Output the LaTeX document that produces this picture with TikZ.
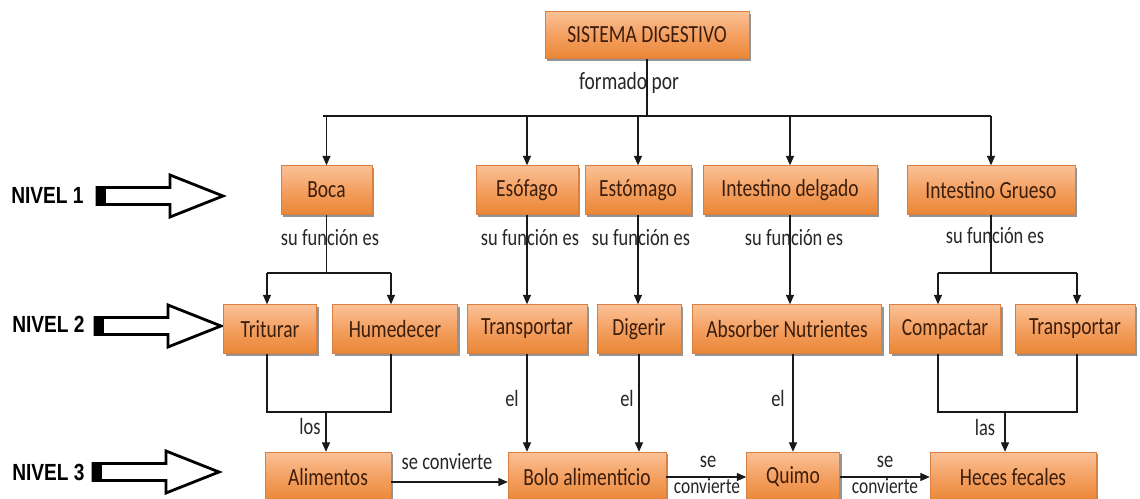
\documentclass[tikz,border=0pt]{standalone}
\usepackage{fontspec}
\newfontfamily\cfont{Carlito}[FakeStretch=0.79]
\newfontfamily\nfont{Liberation Sans}[FakeStretch=0.82]
\usetikzlibrary{arrows.meta,shadows}
\definecolor{boxtop}{HTML}{FAC196}
\definecolor{boxmid}{HTML}{F4A062}
\definecolor{boxbot}{HTML}{E98634}
\definecolor{boxline}{HTML}{D98040}
\definecolor{boxtext}{HTML}{3C1E0C}
\begin{document}
\begin{tikzpicture}[x=0.75pt,y=-0.75pt,
  box/.style={draw=boxline, line width=0.4pt, top color=boxtop, bottom color=boxbot, middle color=boxmid,
    drop shadow={shadow xshift=1.8pt,shadow yshift=-1.8pt,fill=black!60,opacity=0.7},
    text=boxtext, font=\cfont\fontsize{18.5}{20}\selectfont, inner sep=0pt, minimum height=36.75pt},
  bw/.style={minimum width={#1*0.75pt}},
  lbl/.style={font=\cfont\fontsize{17.5}{19}\selectfont, text=black!85, inner sep=0pt},
  niv/.style={font=\nfont\bfseries\fontsize{17.5}{20}\selectfont, inner sep=0pt, anchor=west},
  conn/.style={line width=0.8pt, draw=black!90},
  arr/.style={conn, -{Triangle[length=7pt,width=6pt]}},
  levelarrow/.pic={
    \draw[line width=2.1pt, line join=miter, fill=white] (0,-8.5) -- (73,-8.5) -- (73,-21) -- (126,0) -- (73,21) -- (73,8.5) -- (0,8.5) -- cycle;
    \draw[line width=2.8pt] (0,8.5) -- (73,8.5);
    \fill (0,-9.5) rectangle (9,9.5);
  }]
\useasboundingbox (0,0) rectangle (1140,499);
\clip (0,0) rectangle (1140,499);

% level markers
\node[niv] (n1) at (11,195) {NIVEL 1};
\node[niv] (n2) at (12,324) {NIVEL 2};
\node[niv] (n3) at (12,472) {NIVEL 3};
\pic at (97,196) {levelarrow};
\pic at (95,326) {levelarrow};
\pic at (93,472) {levelarrow};

% title
\node[box,bw=204,minimum height=35.25pt] (sys) at (647,35) {SISTEMA DIGESTIVO};

% level 1
\node[box,bw=91]  (boca) at (326.5,190) {Boca};
\node[box,bw=102] (esof) at (527,190) {Esófago};
\node[box,bw=106] (esto) at (638,190) {Estómago};
\node[box,bw=174] (intd) at (790,190) {Intestino delgado};
\node[box,bw=168] (intg) at (991,190) {Intestino Grueso};

% level 2
\node[box,bw=93]  (trit)  at (270,329) {Triturar};
\node[box,bw=125] (hume)  at (395,329) {Humedecer};
\node[box,bw=120] (tran)  at (527,329) {Transportar};
\node[box,bw=84]  (dige)  at (639,329) {Digerir};
\node[box,bw=189] (abso)  at (787,329) {Absorber Nutrientes};
\node[box,bw=111] (comp)  at (945,329) {Compactar};
\node[box,bw=120] (tran2) at (1075,329) {Transportar};

% level 3
\node[box,bw=126,minimum height=37.5pt] (alim) at (328,477) {Alimentos};
\node[box,bw=158,minimum height=37.5pt] (bolo) at (587,477) {Bolo alimenticio};
\node[box,bw=93,minimum height=37.5pt]  (quim) at (793,477) {Quimo};
\node[box,bw=166,minimum height=37.5pt] (hece) at (1013,477) {Heces fecales};

% title to level 1
\coordinate (busL) at (323,116);
\coordinate (busR) at (991,116);
\draw[conn] (sys.south) -- (sys.south |- busL);
\draw[conn] (busL) -- (busR);
\draw[arr] (busL -| boca) -- (boca.north);
\draw[arr] (busL -| esof) -- (esof.north);
\draw[arr] (busL -| esto) -- (esto.north);
\draw[arr] (busL -| intd) -- (intd.north);
\draw[arr] (busL -| intg) -- (intg.north);
\node[lbl,font=\cfont\fontsize{18.5}{20}\selectfont] (fp) at (629,83) {formado por};

% level 1 to level 2
\coordinate (bocaJ) at (326.5,273);
\coordinate (bocaL) at (267,273);
\coordinate (bocaR) at (391,273);
\draw[conn] (boca.south) -- (bocaJ);
\draw[conn] (bocaL) -- (bocaR);
\draw[arr] (bocaL) -- (bocaL |- trit.north);
\draw[arr] (bocaR) -- (bocaR |- hume.north);
\draw[arr] (esof.south) -- (esof.south |- tran.north);
\draw[arr] (esto.south) -- (esto.south |- dige.north);
\draw[arr] (intd.south) -- (intd.south |- abso.north);
\coordinate (intgJ) at (991,273);
\coordinate (intgL) at (938,273);
\coordinate (intgR) at (1077,273);
\draw[conn] (intg.south) -- (intgJ);
\draw[conn] (intgL) -- (intgR);
\draw[arr] (intgL) -- (intgL |- comp.north);
\draw[arr] (intgR) -- (intgR |- tran2.north);
\node[lbl] (f1) at (330,238) {su función es};
\node[lbl] (f2) at (530,238) {su función es};
\node[lbl] (f3) at (641,238) {su función es};
\node[lbl] (f4) at (794,238) {su función es};
\node[lbl] (f5) at (995,236) {su función es};

% level 2 to level 3
\coordinate (alimL) at (267,412);
\coordinate (alimR) at (391,412);
\coordinate (alimJ) at (326,412);
\draw[conn] (alimL |- trit.south) -- (alimL) -- (alimR) -- (alimR |- hume.south);
\draw[arr] (alimJ) -- (alimJ |- alim.north);
\draw[arr] (tran.south) -- (tran.south |- bolo.north);
\draw[arr] (dige.south) -- (dige.south |- bolo.north);
\draw[arr] (quim.north |- abso.south) -- (quim.north);
\coordinate (heceL) at (938,412);
\coordinate (heceR) at (1077,412);
\coordinate (heceJ) at (1005,412);
\draw[conn] (heceL |- comp.south) -- (heceL) -- (heceR) -- (heceR |- tran2.south);
\draw[arr] (heceJ) -- (heceJ |- hece.north);
\node[lbl] (l1) at (310,426) {los};
\node[lbl] (e1) at (512,398) {el};
\node[lbl] (e2) at (627,398) {el};
\node[lbl] (e3) at (778,398) {el};
\node[lbl] (l2) at (985,427) {las};

% level 3 horizontal
\draw[arr] ([yshift=-3.75pt]alim.east) -- ([yshift=-3.75pt]bolo.west);
\draw[arr] (bolo.east) -- (quim.west);
\draw[arr] (quim.east) -- (hece.west);
\node[lbl] (c1) at (447,462) {se convierte};
\node[lbl] (c2a) at (708,462) {se};
\node[lbl,font=\cfont\fontsize{16.5}{18}\selectfont] (c2b) at (707,486) {convierte};
\node[lbl] (c3a) at (885,462) {se};
\node[lbl,font=\cfont\fontsize{16.5}{18}\selectfont] (c3b) at (885,486) {convierte};
\end{tikzpicture}
\end{document}
